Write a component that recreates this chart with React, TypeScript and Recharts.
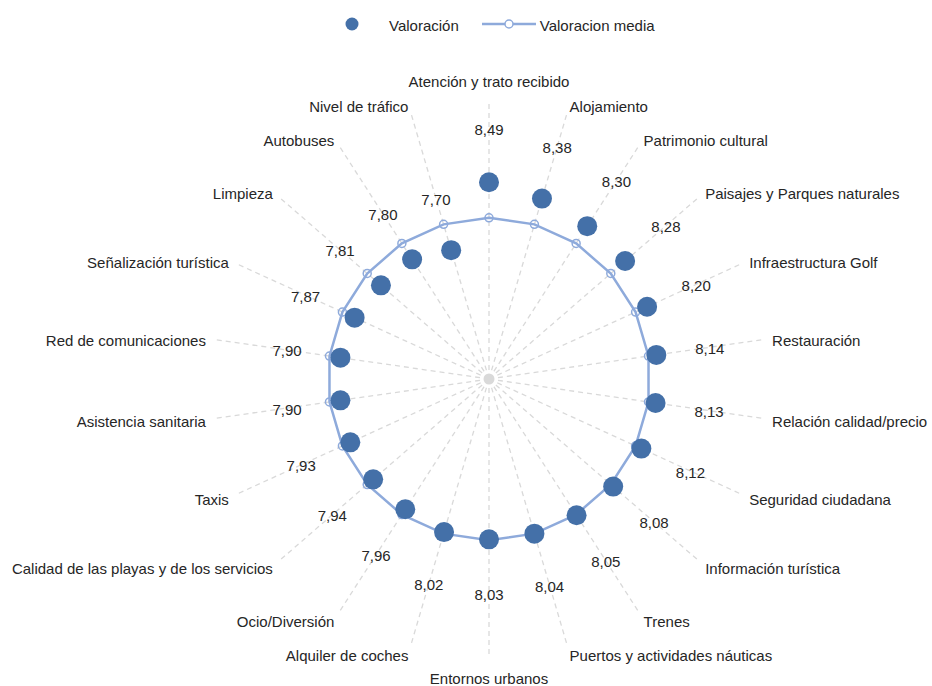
import React from 'react';
import { RadarChart, Radar, PolarGrid, PolarAngleAxis, PolarRadiusAxis, Customized } from 'recharts';

// Categorías en sentido horario desde arriba
const categorias = [
  'Atención y trato recibido',
  'Alojamiento',
  'Patrimonio cultural',
  'Paisajes y Parques naturales',
  'Infraestructura Golf',
  'Restauración',
  'Relación calidad/precio',
  'Seguridad ciudadana',
  'Información turística',
  'Trenes',
  'Puertos y actividades náuticas',
  'Entornos urbanos',
  'Alquiler de coches',
  'Ocio/Diversión',
  'Calidad de las playas y de los servicios',
  'Taxis',
  'Asistencia sanitaria',
  'Red de comunicaciones',
  'Señalización turística',
  'Limpieza',
  'Autobuses',
  'Nivel de tráfico',
];

const valoracion = [
  8.49, 8.38, 8.30, 8.28, 8.20, 8.14, 8.13, 8.12, 8.08, 8.05, 8.04,
  8.03, 8.02, 7.96, 7.94, 7.93, 7.90, 7.90, 7.87, 7.81, 7.80, 7.70,
];

const valoracionMedia = [
  8.04, 8.04, 8.04, 8.04, 8.04, 8.04, 8.04, 8.04, 8.04, 8.04, 8.04,
  8.04, 8.04, 8.04, 8.04, 8.04, 8.04, 8.04, 8.04, 8.04, 8.04, 8.04,
];

const dominioRadio = [6, 10];

const data = categorias.map((c, i) => ({
  categoria: c,
  valoracion: valoracion[i],
  media: valoracionMedia[i],
}));

const W = 932;
const H = 686;
const CX = 489;
const CY = 379;
const R_ESCALA = 316; // radio del valor 10
const R_ETIQ = 286;   // radio de las etiquetas de categoría
const FONT = "'Liberation Sans', Arial, sans-serif";
const AZUL = '#4470a8';
const AZUL_CLARO = '#8eaadb';
const TEXTO = '#262626';

// las líneas radiales llegan hasta r≈275: guiones 5/4 y luego hueco largo
const dashRadial = [...Array(30).fill('5 4'), '5 60'].join(' ');

const fmt = (v: number) => v.toFixed(2).replace('.', ',');

// punto grande + etiqueta de valor hacia fuera
const ValorDot = (props: any) => {
  const { cx, cy, index } = props;
  const dx = cx - CX;
  const dy = cy - CY;
  const d = Math.hypot(dx, dy) || 1;
  const r = d + 54;
  const lx = CX + (dx / d) * r;
  const ly = CY + (dy / d) * r;
  return (
    <g key={`v-${index}`}>
      <circle cx={cx} cy={cy} r={10} fill={AZUL} />
      <text x={lx} y={ly + 1} textAnchor="middle" dominantBaseline="central"
        fontFamily={FONT} fontSize={15} fill={TEXTO}>
        {fmt(valoracion[index])}
      </text>
    </g>
  );
};

const CategoriaTick = (props: any) => {
  const { x, y, payload, textAnchor } = props;
  let dy = 2;
  if (textAnchor === 'middle') dy = y < CY ? -12 : 13;
  return (
    <text x={x} y={y + dy} textAnchor={textAnchor} dominantBaseline="central"
      fontFamily={FONT} fontSize={15} fill={TEXTO}>
      {payload.value}
    </text>
  );
};

const Centro = () => (
  <g>
    <circle cx={CX} cy={CY} r={9} fill="#ffffff" />
    <circle cx={CX} cy={CY} r={5.5} fill="#d9d9d9" />
  </g>
);

export default function App() {
  return (
    <div style={{ position: 'absolute', left: 0, top: 0, width: W, height: H, background: '#fff' }}>
      <div style={{
        position: 'absolute', top: 15, left: 345, display: 'flex', alignItems: 'center',
        fontFamily: FONT, fontSize: 15, color: TEXTO, whiteSpace: 'nowrap',
      }}>
        <svg width={14} height={14}><circle cx={7} cy={7} r={6.5} fill={AZUL} /></svg>
        <span style={{ marginLeft: 30, position: 'relative', top: 2 }}>Valoración</span>
        <svg width={54} height={14} style={{ marginLeft: 23 }}>
          <line x1={0} y1={7} x2={54} y2={7} stroke={AZUL_CLARO} strokeWidth={2.5} />
          <circle cx={27} cy={7} r={4} fill="#fff" stroke={AZUL_CLARO} strokeWidth={1.5} />
        </svg>
        <span style={{ marginLeft: 4, position: 'relative', top: 2 }}>Valoracion media</span>
      </div>
      <RadarChart width={W} height={H} data={data} cx={CX} cy={CY} outerRadius={R_ESCALA}
        margin={{ top: 0, right: 0, bottom: 0, left: 0 }}>
        <PolarGrid gridType="polygon" polarRadius={[0]} stroke="#d9d9d9"
          strokeWidth={1.3} strokeDasharray={dashRadial} />
        <Customized component={Centro} />
        <PolarAngleAxis dataKey="categoria" tick={<CategoriaTick />} tickSize={R_ETIQ - R_ESCALA}
          axisLine={false} tickLine={false} />
        <PolarRadiusAxis type="number" domain={dominioRadio} allowDataOverflow
          tick={false} axisLine={false} angle={90} />
        <Radar name="Valoracion media" dataKey="media" stroke={AZUL_CLARO} strokeWidth={2.5}
          fill="none" fillOpacity={0}
          dot={{ r: 4, fill: '#ffffff', stroke: AZUL_CLARO, strokeWidth: 1.5 }}
          isAnimationActive={false} />
        <Radar name="Valoración" dataKey="valoracion" stroke="none" fill="none" fillOpacity={0}
          dot={(p: any) => <ValorDot {...p} key={`vd-${p.index}`} />}
          isAnimationActive={false} />
      </RadarChart>
    </div>
  );
}
